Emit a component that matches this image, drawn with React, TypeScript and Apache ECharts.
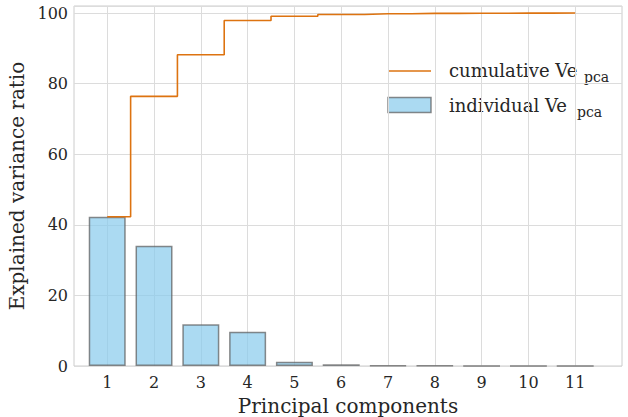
import React, { useEffect, useRef } from "react";
import * as echarts from "echarts";

const components = [1, 2, 3, 4, 5, 6, 7, 8, 9, 10, 11];
const individual = [42.3, 34.1, 11.8, 9.7, 1.2, 0.5, 0.2, 0.1, 0.05, 0.03, 0.02];
const cumulative = [42.3, 76.4, 88.2, 97.9, 99.1, 99.6, 99.8, 99.9, 99.95, 99.98, 100];
const yTicks = [0, 20, 40, 60, 80, 100];

const FONT = "'DejaVu Serif', 'Liberation Serif', serif";
const ORANGE = "#dd7310";
const BAR_FILL = "rgba(135,203,236,0.7)";
const BAR_EDGE = "rgba(90,90,90,0.7)";
const TEXT = "#262626";

export default function App() {
  const ref = useRef<HTMLDivElement>(null);
  useEffect(() => {
    if (!ref.current) return;
    const chart = echarts.init(ref.current, undefined, { renderer: "svg" });
    chart.setOption({
      animation: false,
      backgroundColor: "#fff",
      grid: {
        left: 74,
        right: 6,
        top: 6,
        bottom: 51,
        outerBoundsMode: "none",
        containLabel: false,
        show: true,
        borderColor: "#cccccc",
        borderWidth: 1,
        backgroundColor: "transparent",
      },
      xAxis: {
        type: "value",
        min: 0.29,
        max: 12,
        name: "Principal components",
        nameLocation: "middle",
        nameGap: 30,
        nameTextStyle: { fontFamily: FONT, fontSize: 20, color: TEXT },
        axisLine: { show: false },
        axisTick: { show: false, customValues: components },
        axisLabel: {
          customValues: components,
          fontFamily: FONT,
          fontSize: 16,
          color: TEXT,
          margin: 8,
        },
        splitLine: { show: true, lineStyle: { color: "#dcdcdc", width: 1 } },
      },
      yAxis: {
        type: "value",
        min: 0,
        max: 102,
        interval: 20,
        name: "Explained variance ratio",
        nameLocation: "middle",
        nameGap: 41,
        nameTextStyle: { fontFamily: FONT, fontSize: 20, color: TEXT },
        axisLine: { show: false },
        axisTick: { show: false },
        axisLabel: {
          fontFamily: FONT,
          fontSize: 16,
          color: TEXT,
          margin: 6,
          showMaxLabel: false,
          formatter: (v: number) => (yTicks.includes(v) ? String(v) : ""),
        },
        splitLine: { show: true, lineStyle: { color: "#dcdcdc", width: 1 } },
      },
      series: [
        {
          type: "bar",
          name: "individual",
          data: components.map((c, i) => [c, individual[i]]),
          barWidth: 37,
          itemStyle: { color: BAR_FILL, borderColor: BAR_EDGE, borderWidth: 1.5 },
          z: 2,
        },
        {
          type: "line",
          name: "cumulative",
          step: "middle",
          data: components.map((c, i) => [c, cumulative[i]]),
          symbol: "none",
          lineStyle: { color: ORANGE, width: 1.6 },
          z: 3,
        },
      ],
      graphic: [
        {
          type: "line",
          shape: { x1: 388, y1: 71, x2: 431, y2: 71 },
          style: { stroke: ORANGE, lineWidth: 1.6 },
        },
        {
          type: "rect",
          shape: { x: 388, y: 97.5, width: 43, height: 15 },
          style: { fill: BAR_FILL, stroke: BAR_EDGE, lineWidth: 1.5 },
        },
        {
          type: "text",
          x: 449,
          y: 70,
          style: { text: "cumulative Ve", font: `18px ${FONT}`, fill: TEXT, verticalAlign: "middle" },
        },
        {
          type: "text",
          x: 584,
          y: 77,
          style: { text: "pca", font: `14px ${FONT}`, fill: TEXT, verticalAlign: "middle" },
        },
        {
          type: "text",
          x: 449,
          y: 105,
          style: { text: "individual Ve", font: `18px ${FONT}`, fill: TEXT, verticalAlign: "middle" },
        },
        {
          type: "text",
          x: 577,
          y: 112,
          style: { text: "pca", font: `14px ${FONT}`, fill: TEXT, verticalAlign: "middle" },
        },
      ],
    });
    return () => chart.dispose();
  }, []);
  return <div ref={ref} style={{ width: 628, height: 417, position: "absolute", left: 0, top: 0 }} />;
}
